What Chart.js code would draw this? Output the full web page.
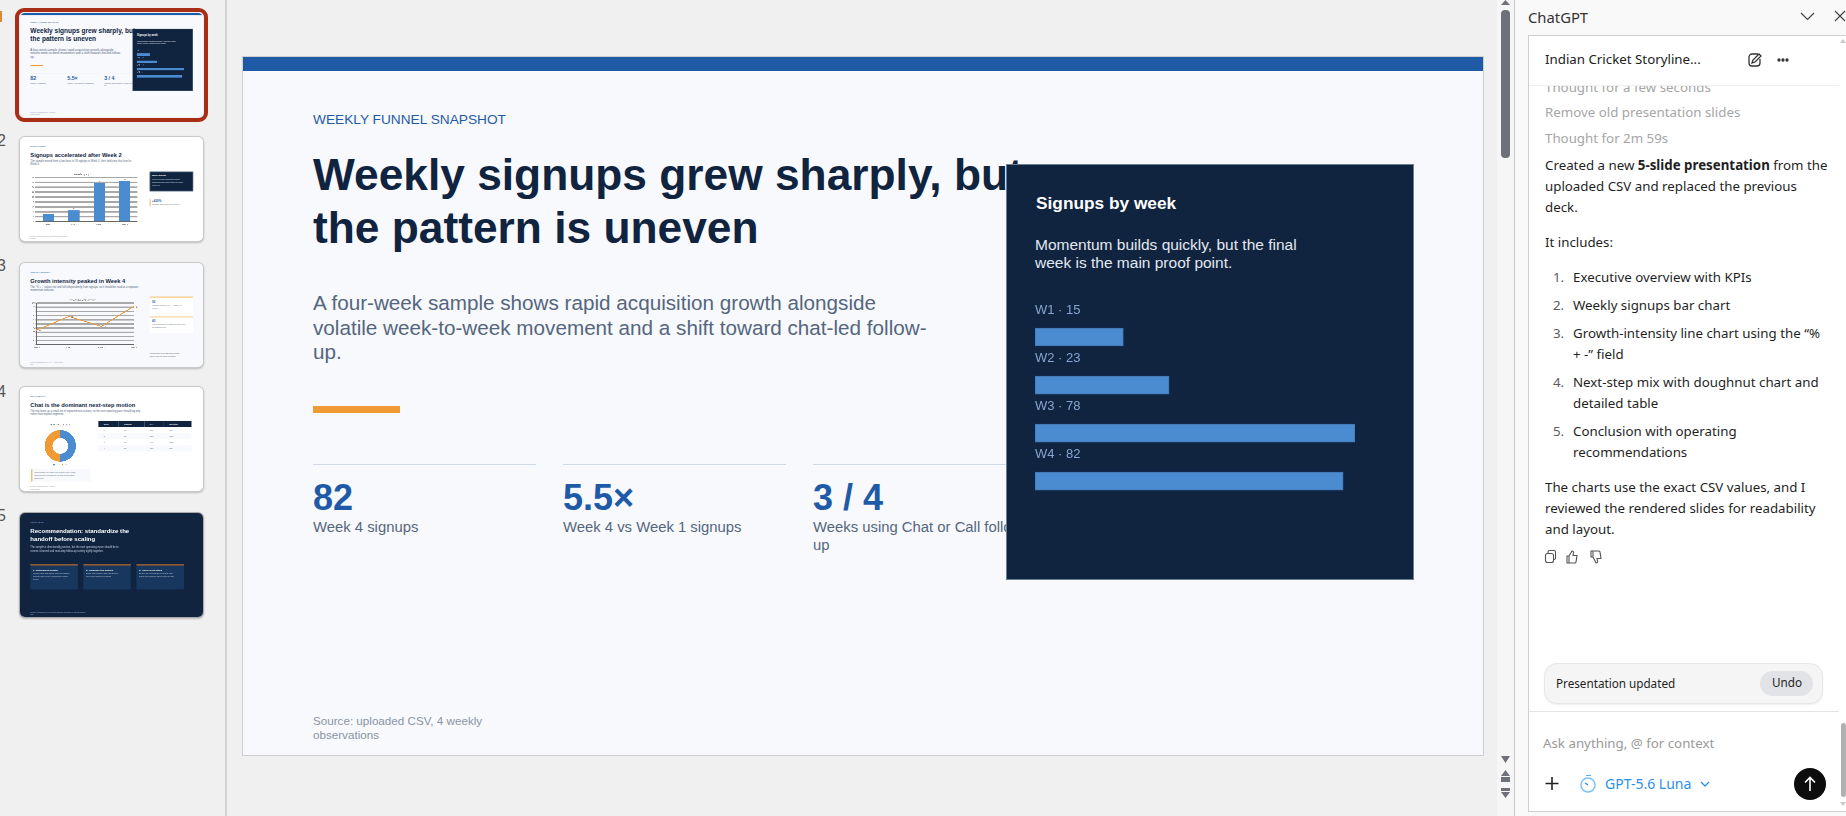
<!DOCTYPE html>
<html>
<head>
<meta charset="utf-8">
<title>Weekly funnel snapshot</title>
<script src="https://cdn.jsdelivr.net/npm/chart.js@4"></script>
<style>
html, body { margin: 0; padding: 0; width: 1846px; height: 816px; overflow: hidden; background: #f0f0f0; font-family: "Liberation Sans", Arial, sans-serif; }
div, span, canvas, svg { position: absolute; box-sizing: border-box; }
b, i { position: static; }
.page { white-space: nowrap; }

/* slides are laid out at full size, thumbnails are the same thing scaled */
.slide { width: 1240px; height: 698px; overflow: hidden; background: #f7f9fc; }
.slide.white { background: #fff; }
.slide.navy { background: #102440; }
.thumb { left: 20px; width: 183px; height: 104px; border-radius: 5px; overflow: hidden; box-shadow: 0 0 0 1px #c9c9c9, 0 1px 2px 1px #bbb; }
.thumb .slide { transform: scale(0.1476, 0.149); transform-origin: 0 0; left: 0; top: 0; filter: blur(1.6px); }
.num { left: -6px; font-size: 16px; color: #555; width: 12px; text-align: right; }

.kicker { left: 70px; top: 54.5px; font-size: 13.7px; line-height: 16px; color: #1f5aa6; }
.title { left: 70px; top: 91px; font-size: 44.3px; line-height: 53px; font-weight: bold; color: #102440; }
.sub { left: 70px; top: 234px; font-size: 20.68px; line-height: 24.7px; color: #55667e; }
.kpi { font-size: 36px; line-height: 40px; font-weight: bold; color: #1f5aa6; top: 421px; }
.kpil { font-size: 14.85px; line-height: 18px; color: #55667e; top: 461px; }
.rule { top: 406.5px; height: 1.5px; background: #cfd9e8; }
.src { left: 70px; top: 657px; font-size: 11.65px; line-height: 14px; color: #8a94a3; }
.ttl2 { left: 70px; top: 92px; font-size: 39px; line-height: 56px; font-weight: bold; color: #102440; }
.sub2 { left: 70px; top: 154px; font-size: 17.5px; line-height: 21px; color: #55667e; }

.pane { font-family: "Noto Sans", sans-serif; font-size: 13.3px; line-height: 21px; color: #1f1f1f; }
.grey { color: #a6a6a6; }
.ln { color: #5c5c5c; }
td { padding: 0; }
</style>
</head>
<body>
<div class="page" id="page" style="left:0;top:0;width:1846px;height:816px;">

  <!-- thumbnail column -->
  <div style="left:225px;top:0;width:2px;height:816px;background:#d2d2d2;"></div>
  <div style="left:0;top:11px;width:2px;height:11px;background:#d98a35;"></div>
  <div class="num" style="top:132px;">2</div>
  <div class="num" style="top:257px;">3</div>
  <div class="num" style="top:383px;">4</div>
  <div class="num" style="top:507px;">5</div>

  <div style="left:15px;top:8px;width:193px;height:114px;border:4px solid #a92e16;border-radius:9px;"></div>
  <div class="thumb" id="thumb1" style="top:13px;box-shadow:none;"></div>

  <div class="thumb" style="top:137px;">
    <div class="slide white">
      <div class="kicker">SIGNUP TREND</div>
      <div class="ttl2">Signups accelerated after Week 2</div>
      <div class="sub2">The sample moved from a low base to 78 signups in Week 3, then held near that level in<br>Week 4.</div>
      <canvas id="thumbBars" width="745" height="360" style="left:50px;top:238px;"></canvas>
      <div style="left:879px;top:233px;width:294px;height:131px;background:#102440;outline:3px solid #7a8799;outline-offset:-3px;"></div>
      <div style="left:895px;top:250px;font-size:16px;font-weight:bold;color:#fff;">Main insight</div>
      <div style="left:895px;top:272px;font-size:14.5px;line-height:20px;color:#dce3ee;">Week 3 is the inflection point:<br>signups jump more than 3x from<br>Week 2.</div>
      <div style="left:879px;top:418px;width:5px;height:48px;background:#f09a36;"></div>
      <div style="left:895px;top:420px;font-size:20px;font-weight:bold;color:#1f5aa6;">+420%</div>
      <div style="left:895px;top:446px;font-size:13px;color:#55667e;">increase from Week 1 to Week 3</div>
      <div class="src" style="top:660px;">Source: uploaded CSV, values shown as weekly<br>counts</div>
    </div>
  </div>

  <div class="thumb" style="top:263px;">
    <div class="slide">
      <div class="kicker">GROWTH INTENSITY</div>
      <div class="ttl2">Growth intensity peaked in Week 4</div>
      <div class="sub2">The "% + -" values rise and fall independently from signups, so it should be read as a separate<br>momentum indicator.</div>
      <canvas id="thumbLine" width="745" height="340" style="left:50px;top:238px;"></canvas>
      <div style="left:879px;top:226px;width:294px;height:126px;background:#fff;border-top:6px solid #f5b455;"></div>
      <div style="left:895px;top:248px;font-size:20px;font-weight:bold;color:#1f5aa6;">92</div>
      <div style="left:895px;top:276px;font-size:13.5px;line-height:18px;color:#55667e;">Highest reported "% + -" value, in<br>Week 4.</div>
      <div style="left:879px;top:359px;width:294px;height:111px;background:#fff;border-top:6px solid #f5c77a;"></div>
      <div style="left:895px;top:378px;font-size:20px;font-weight:bold;color:#1f5aa6;">43</div>
      <div style="left:895px;top:406px;font-size:13.5px;line-height:18px;color:#55667e;">Week 3 softened versus Week 2 even<br>as signups rose.</div>
      <div style="left:879px;top:600px;font-size:12px;line-height:16px;color:#445;">Interpretation: keep this as directional<br>context until the metric is defined.</div>
      <div class="src" style="top:660px;">Source: uploaded CSV, "% + -" field values<br>only</div>
    </div>
  </div>

  <div class="thumb" style="top:387px;">
    <div class="slide white">
      <div class="kicker">NEXT-STEP MIX</div>
      <div class="ttl2">Chat is the dominant next-step motion</div>
      <div class="sub2">The mix leans on a small set of repeated next actions, so the next reporting pass should log why<br>rather than implied segments.</div>
      <canvas id="thumbDonut" width="400" height="300" style="left:73px;top:238px;"></canvas>
      <div style="left:77px;top:551px;width:402px;height:84px;background:#f7f9fc;border-left:6px solid #f09a36;"></div>
      <div style="left:96px;top:562px;font-size:13px;line-height:20px;color:#55667e;">Interpretation: next-step mix is split evenly. Track<br>follow-up type consistently so later weeks show<br>what helps.</div>
      <div id="thumbTable" style="left:531px;top:228px;width:631px;height:204px;"></div>
      <div class="src" style="top:663px;">Source: uploaded CSV, 4 weekly<br>observations</div>
    </div>
  </div>

  <div class="thumb" style="top:513px;box-shadow:0 0 0 1px #aaa,0 1px 2px 1px #bbb;">
    <div class="slide navy">
      <div class="kicker" style="color:#7fa5d6;">CONCLUSION</div>
      <div class="ttl2" style="color:#fff;font-size:41px;">Recommendation: standardize the<br>handoff before scaling</div>
      <div class="sub2" style="top:222px;color:#c5d0e0;">The sample is directionally positive, but the next operating move should be to<br>connect channel and next-step follow-up activity tightly together.</div>
      <div style="left:70px;top:344px;width:322px;height:169px;background:#17375e;border-top:8px solid #b8692a;"></div>
      <div style="left:429px;top:344px;width:322px;height:169px;background:#17375e;border-top:8px solid #b8692a;"></div>
      <div style="left:789px;top:344px;width:322px;height:169px;background:#17375e;border-top:8px solid #b8692a;"></div>
      <div style="left:88px;top:374px;font-size:17px;font-weight:bold;color:#fff;">1. Instrument growth</div>
      <div style="left:447px;top:374px;font-size:17px;font-weight:bold;color:#fff;">2. Compare the motion</div>
      <div style="left:807px;top:374px;font-size:17px;font-weight:bold;color:#fff;">3. Agree next steps</div>
      <div style="left:88px;top:396px;font-size:14px;line-height:20px;color:#c5d0e0;">Record how and where signups happen.<br>Repeat until Week 3 behaviour makes<br>sense.</div>
      <div style="left:447px;top:396px;font-size:14px;line-height:20px;color:#c5d0e0;">Track chat versus "Call" separately.<br>Keep one owner per signup.</div>
      <div style="left:807px;top:396px;font-size:14px;line-height:20px;color:#c5d0e0;">Define an exit criterion for follow-ups.<br>Track them weekly and review by split.</div>
      <div class="src" style="top:660px;color:#9fb4d2;">Source: uploaded CSV. Recommendations are based on a small sample<br>only.</div>
    </div>
  </div>

  <!-- main slide -->
  <div id="slideWrap" style="left:243px;top:57px;width:1240px;height:698px;box-shadow:0 0 0 1px #cfcfcf;">
    <div class="slide" id="mainSlide" style="left:0;top:0;">
      <div style="left:0;top:0;width:1240px;height:14px;background:#1f5aa6;"></div>
      <div class="kicker">WEEKLY FUNNEL SNAPSHOT</div>
      <div class="title">Weekly signups grew sharply, but<br>the pattern is uneven</div>
      <div class="sub">A four-week sample shows rapid acquisition growth alongside<br>volatile week-to-week movement and a shift toward chat-led follow-<br>up.</div>
      <div style="left:70px;top:349px;width:87px;height:7px;background:#f09a36;"></div>
      <div class="rule" style="left:70px;width:223px;"></div>
      <div class="rule" style="left:320px;width:223px;"></div>
      <div class="rule" style="left:570px;width:223px;"></div>
      <div class="kpi" style="left:70px;">82</div>
      <div class="kpi" style="left:320px;">5.5×</div>
      <div class="kpi" style="left:570px;">3 / 4</div>
      <div class="kpil" style="left:70px;">Week 4 signups</div>
      <div class="kpil" style="left:320px;">Week 4 vs Week 1 signups</div>
      <div class="kpil" style="left:570px;">Weeks using Chat or Call follow-<br>up</div>
      <div class="src">Source: uploaded CSV, 4 weekly<br>observations</div>
      <div style="left:763px;top:107px;width:408px;height:416px;background:#102440;outline:1px solid #6f7d92;outline-offset:-1px;">
        <div style="left:30px;top:29px;font-size:17.3px;line-height:20px;font-weight:bold;color:#fff;">Signups by week</div>
        <div style="left:29px;top:72px;font-size:15.5px;line-height:18px;color:#e2e8f0;">Momentum builds quickly, but the final<br>week is the main proof point.</div>
        <canvas class="signupBars" width="350" height="215" style="left:29px;top:134px;"></canvas>
      </div>
    </div>
  </div>

  <!-- slide scrollbar -->
  <div style="left:1497px;top:0;width:17px;height:816px;background:#f6f6f6;"></div>
  <div style="left:1514px;top:0;width:1px;height:816px;background:#c8c8c8;"></div>
  <svg style="left:1497px;top:0;" width="17" height="816">
    <path d="M8.5 0 L13 5 L4 5 Z" fill="#6e7278"/>
    <rect x="4" y="10" width="9" height="148" rx="4" fill="#6e7278"/>
    <path d="M4 756 L13 756 L8.5 763 Z M8.5 770 L13 776 L4 776 Z M4 777 L13 777 L13 782 L4 782 Z M4 788 L13 788 L13 791 L4 791 Z M4 792 L13 792 L8.5 798 Z" fill="#6e7278"/>
  </svg>

  <!-- ChatGPT pane -->
  <div style="left:1515px;top:0;width:331px;height:816px;background:#f9f9f9;"></div>
  <div class="pane" style="left:1528px;top:5px;font-size:14.8px;line-height:24px;color:#333;">ChatGPT</div>
  <svg style="left:1798px;top:8px;" width="48" height="18" fill="none" stroke="#444" stroke-width="1.2">
    <path d="M3 5 L9.5 11.5 L16 5"/><path d="M37 3 L47 13 M47 3 L37 13"/>
  </svg>
  <div style="left:1528px;top:35px;width:318px;height:777px;background:#fff;border:1px solid #cfcfcf;border-right:none;"></div>

  <div class="pane grey" style="left:1545px;top:77px;">Thought for a few seconds</div>
  <div class="pane grey" style="left:1545px;top:102px;">Remove old presentation slides</div>
  <div class="pane grey" style="left:1545px;top:128px;">Thought for 2m 59s</div>
  <div class="pane" style="left:1545px;top:155px;">Created a new <b>5-slide presentation</b> from the</div>
  <div class="pane" style="left:1545px;top:176px;">uploaded CSV and replaced the previous</div>
  <div class="pane" style="left:1545px;top:197px;">deck.</div>
  <div class="pane" style="left:1545px;top:232px;">It includes:</div>
  <div class="pane ln" style="left:1553px;top:267px;">1.</div>
  <div class="pane" style="left:1573px;top:267px;">Executive overview with KPIs</div>
  <div class="pane ln" style="left:1553px;top:295px;">2.</div>
  <div class="pane" style="left:1573px;top:295px;">Weekly signups bar chart</div>
  <div class="pane ln" style="left:1553px;top:323px;">3.</div>
  <div class="pane" style="left:1573px;top:323px;">Growth-intensity line chart using the “%</div>
  <div class="pane" style="left:1573px;top:344px;">+ -” field</div>
  <div class="pane ln" style="left:1553px;top:372px;">4.</div>
  <div class="pane" style="left:1573px;top:372px;">Next-step mix with doughnut chart and</div>
  <div class="pane" style="left:1573px;top:393px;">detailed table</div>
  <div class="pane ln" style="left:1553px;top:421px;">5.</div>
  <div class="pane" style="left:1573px;top:421px;">Conclusion with operating</div>
  <div class="pane" style="left:1573px;top:442px;">recommendations</div>
  <div class="pane" style="left:1545px;top:477px;">The charts use the exact CSV values, and I</div>
  <div class="pane" style="left:1545px;top:498px;">reviewed the rendered slides for readability</div>
  <div class="pane" style="left:1545px;top:519px;">and layout.</div>

  <svg style="left:1544px;top:549px;" width="70" height="16" fill="none" stroke="#555" stroke-width="1.1">
    <rect x="1.5" y="4.5" width="8" height="9" rx="2"/><path d="M4 4 V3 a1.5 1.5 0 0 1 1.5 -1.5 H10 a1.5 1.5 0 0 1 1.5 1.5 V9 a1.5 1.5 0 0 1 -1.5 1.5"/>
    <path d="M25 7 H23 V14 H25 Z M25 7 L28 2 a1.5 1.5 0 0 1 1.5 2 L29 6.5 H33 L32 13 a1.5 1.5 0 0 1 -1.5 1 H25"/>
    <path d="M49 8 H47 V2 H49 Z M49 8 L52 14 a1.5 1.5 0 0 0 1.5 -2 L53 9.5 H57 L56 3 a1.5 1.5 0 0 0 -1.5 -1 H49"/>
  </svg>

  <!-- pane header sits over the scrolled text -->
  <div style="left:1529px;top:36px;width:317px;height:49px;background:#fff;"></div>
  <div style="left:1529px;top:85px;width:310px;height:1px;background:#efefef;"></div>
  <div class="pane" style="left:1545px;top:49px;color:#222;">Indian Cricket Storyline...</div>
  <svg style="left:1747px;top:52px;" width="46" height="16" fill="none" stroke="#333" stroke-width="1.3">
    <path d="M11 2 H5 a3 3 0 0 0 -3 3 V11 a3 3 0 0 0 3 3 H10 a3 3 0 0 0 3 -3 V7"/><path d="M5 11 L6 8 L12 2 L14 4 L8 10 Z"/>
    <circle cx="32" cy="8" r="1" fill="#333"/><circle cx="36" cy="8" r="1" fill="#333"/><circle cx="40" cy="8" r="1" fill="#333"/>
  </svg>
  <svg style="left:1838px;top:36px;" width="8" height="775">
    <path d="M5 3 L8 7 L2 7 Z" fill="#c9c9c9"/><rect x="3" y="687" width="5" height="74" rx="2.5" fill="#b0b0b0"/><path d="M2 766 L8 766 L5 770 Z" fill="#c9c9c9"/>
  </svg>

  <div style="left:1544px;top:663px;width:279px;height:41px;background:#f5f5f6;border:1px solid #e6e6e6;border-radius:13px;box-shadow:0 1px 2px #eee;"></div>
  <div class="pane" style="left:1556px;top:673px;font-size:11.7px;">Presentation updated</div>
  <div style="left:1760px;top:671px;width:53px;height:25px;background:#e2e3e6;border-radius:13px;"></div>
  <div class="pane" style="left:1772px;top:672px;font-size:11.7px;">Undo</div>
  <div style="left:1529px;top:711px;width:310px;height:1px;background:#e4e4e4;"></div>
  <div class="pane" style="left:1543px;top:733px;color:#9a9a9a;">Ask anything, @ for context</div>
  <svg style="left:1544px;top:775px;" width="176" height="18" fill="none">
    <path d="M8 2 V15 M1.5 8.5 H14.5" stroke="#222" stroke-width="1.6"/>
    <circle cx="44" cy="10" r="7" stroke="#7cc3f5" stroke-width="1.5"/><path d="M42 0 H47 M44 10 L41 8" stroke="#2c8fe8" stroke-width="1.5"/>
    <path d="M157 7 L161 11 L165 7" stroke="#2c8fe8" stroke-width="1.3"/>
  </svg>
  <div class="pane" style="left:1605px;top:773px;font-size:14px;color:#2c8fe8;">GPT-5.6 Luna</div>
  <svg style="left:1794px;top:768px;" width="32" height="32">
    <circle cx="16" cy="16" r="16" fill="#0d0d0d"/><path d="M16 23 V10 M11 14.5 L16 9.5 L21 14.5" stroke="#fff" stroke-width="1.6" fill="none"/>
  </svg>
</div>

<script>
// values
const weekNames = ['Week 1', 'Week 2', 'Week 3', 'Week 4'];
const weekShort = ['W1', 'W2', 'W3', 'W4'];
const signups = [15, 23, 78, 82];
// drawn length of the panel bars as % of the longest one, the slide does not scale them to the signups
const panelBarShare = [27.6, 41.9, 100, 96.3];
const growthValues = [35, 68, 44, 92];
const nextStepLabels = ['Chat', 'Call'];
const nextStepCounts = [2, 2];
const tableHead = ['Week', 'Signups', '% + -', 'Next step'];
const tableSteps = ['Call', 'Chat', 'Chat', 'Call'];

const navy = '#102440', barBlue = '#4b8bd0', orange = '#f09a36', heavyGrid = '#a8a8a8';
Chart.defaults.animation = false;
Chart.defaults.responsive = false;
Chart.defaults.devicePixelRatio = 1;
Chart.defaults.font.family = '"Liberation Sans", Arial, sans-serif';
Chart.defaults.plugins.legend.display = false;
Chart.defaults.plugins.tooltip.enabled = false;

// same slide again for the selected thumbnail
const firstThumbSlide = document.getElementById('mainSlide').cloneNode(true);
firstThumbSlide.removeAttribute('id');
firstThumbSlide.style.left = '0';
document.getElementById('thumb1').appendChild(firstThumbSlide);

// value printed next to each point
const valueLabels = (dx, dy) => ({
    id: 'valueLabels',
    afterDatasetsDraw(chart) {
        const ctx = chart.ctx;
        const ds = chart.data.datasets[0];
        ctx.save();
        ctx.fillStyle = '#777';
        ctx.font = '14px "Liberation Sans"';
        ctx.textAlign = 'center';
        chart.getDatasetMeta(0).data.forEach((el, i) => {
            ctx.fillText(ds.data[i], el.x + dx, el.y + dy);
        });
        ctx.restore();
    }
});

document.querySelectorAll('.signupBars').forEach(canvas => {
    new Chart(canvas, {
        type: 'bar',
        data: {
            labels: weekShort.map((w, i) => w + ' · ' + signups[i]),
            datasets: [{
                data: panelBarShare,
                backgroundColor: barBlue,
                borderColor: '#3f77b5',
                borderWidth: 1,
                borderSkipped: false,
                barThickness: 18
            }]
        },
        options: {
            indexAxis: 'y',
            layout: { padding: { top: 15, bottom: 0, left: 0, right: 30 } },
            scales: {
                x: { display: false, min: 0, max: 100 },
                y: {
                    grid: { display: false, drawTicks: false },
                    border: { display: false },
                    ticks: {
                        mirror: true,
                        padding: 0,
                        labelOffset: -26.5,
                        autoSkip: false,
                        color: '#86a5cf',
                        font: { size: 13 }
                    }
                }
            }
        }
    });
});

new Chart(document.getElementById('thumbBars'), {
    type: 'bar',
    data: { labels: weekNames, datasets: [{ data: signups, backgroundColor: barBlue, barPercentage: 0.55, categoryPercentage: 0.8 }] },
    options: {
        plugins: { title: { display: true, text: 'Weekly signups', color: '#777', font: { size: 16, weight: 'normal' }, padding: { top: 4, bottom: 10 } } },
        scales: {
            x: { grid: { display: false }, border: { color: '#666', width: 5 }, ticks: { color: '#777', font: { size: 13 } } },
            y: { min: 0, max: 90, afterFit: s => { s.width = 58; }, grid: { color: heavyGrid, lineWidth: 10 }, border: { color: '#666', width: 5 },
                 ticks: { stepSize: 10, color: '#777', font: { size: 13 } } }
        }
    },
    plugins: [valueLabels(0, -8)]
});

new Chart(document.getElementById('thumbLine'), {
    type: 'line',
    data: { labels: weekNames, datasets: [{ data: growthValues, borderColor: orange, borderWidth: 6, pointRadius: 5, pointBackgroundColor: orange, pointBorderWidth: 0, tension: 0 }] },
    options: {
        plugins: { title: { display: true, text: 'Reported growth intensity', color: '#777', font: { size: 16, weight: 'normal' }, padding: { top: 2, bottom: 10 } } },
        scales: {
            x: { grid: { display: false }, border: { color: '#666', width: 5 }, ticks: { color: '#777', font: { size: 13 } } },
            y: { min: 0, max: 100, afterFit: s => { s.width = 63; }, grid: { color: heavyGrid, lineWidth: 10 }, border: { color: '#666', width: 5 },
                 ticks: { stepSize: 10, color: '#777', font: { size: 13 } } }
        }
    },
    plugins: [valueLabels(22, 8)]
});

new Chart(document.getElementById('thumbDonut'), {
    type: 'doughnut',
    data: { labels: nextStepLabels, datasets: [{ data: nextStepCounts, backgroundColor: [barBlue, orange], borderWidth: 0 }] },
    options: {
        cutout: '50%',
        layout: { padding: { top: 0, bottom: 0 } },
        plugins: {
            title: { display: true, text: 'Next steps by week', color: '#777', font: { size: 16, weight: 'normal' }, padding: { top: 6, bottom: 26 } },
            legend: { display: true, position: 'bottom', labels: { boxWidth: 10, boxHeight: 10, color: '#777', font: { size: 13 }, padding: 14 } }
        }
    }
});

// table of the fourth slide
let rows = '<table style="width:631px;border-collapse:collapse;font-size:13px;color:#55667e;"><tr style="height:41px;background:' + navy + ';color:#fff;font-weight:bold;">';
tableHead.forEach(h => { rows += '<td style="padding-left:36px;">' + h + '</td>'; });
rows += '</tr>';
weekNames.forEach((w, i) => {
    rows += '<tr style="height:41px;background:' + (i % 2 ? '#f7f9fc' : '#fff') + ';">' +
        '<td style="padding-left:36px;">' + (i + 1) + '</td><td style="padding-left:36px;">' + signups[i] + '</td>' +
        '<td style="padding-left:36px;">' + growthValues[i] + '%</td><td style="padding-left:36px;">' + tableSteps[i] + '</td></tr>';
});
document.getElementById('thumbTable').innerHTML = rows + '</table>';
</script>
</body>
</html>
